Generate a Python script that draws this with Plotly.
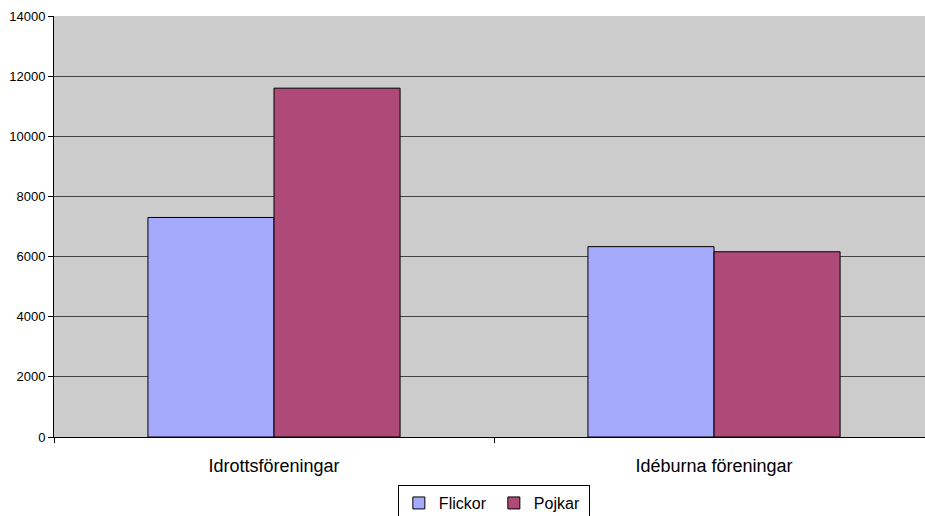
import plotly.graph_objects as go

categories = ["Idrottsföreningar", "Idéburna föreningar"]
flickor = [7300, 6330]
pojkar = [11600, 6160]

fig = go.Figure()
fig.add_trace(go.Bar(x=categories, y=flickor, name="Flickor",
                     marker=dict(color="#A6AAFC", line=dict(color="black", width=1))))
fig.add_trace(go.Bar(x=categories, y=pojkar, name="Pojkar",
                     marker=dict(color="#AF4A78", line=dict(color="black", width=1))))

fig.update_layout(
    width=925, height=516,
    margin=dict(l=54, r=0, t=16, b=79),
    paper_bgcolor="white", plot_bgcolor="#CCCCCC",
    font=dict(family="Liberation Sans, Arial", color="black", size=13),
    barmode="group", bargap=0.427, bargroupgap=0,
    showlegend=True,
    legend=dict(orientation="h", x=0.505, xanchor="center",
                yref="container", y=0.06, yanchor="top",
                bordercolor="black", borderwidth=1, font=dict(size=16),
                itemwidth=30, entrywidth=50, tracegroupgap=0),
)
fig.update_xaxes(range=[-0.5, 1.4795], showline=True, linecolor="black", linewidth=1,
                 ticks="outside", tickson="boundaries", ticklen=5, tickcolor="black",
                 ticklabelstandoff=12, tickfont=dict(size=18), showgrid=False)
fig.update_yaxes(range=[0, 14000], dtick=2000, tickformat="d", showline=True,
                 linecolor="black", linewidth=1,
                 ticks="outside", ticklen=5, tickcolor="black", gridcolor="#444444",
                 gridwidth=1, zeroline=False, tickfont=dict(size=13))

# drop the default body margin so the figure sits at the window corner
fig.write_html("out.html", config={"displayModeBar": False},
               post_script="document.body.style.margin='0';")
